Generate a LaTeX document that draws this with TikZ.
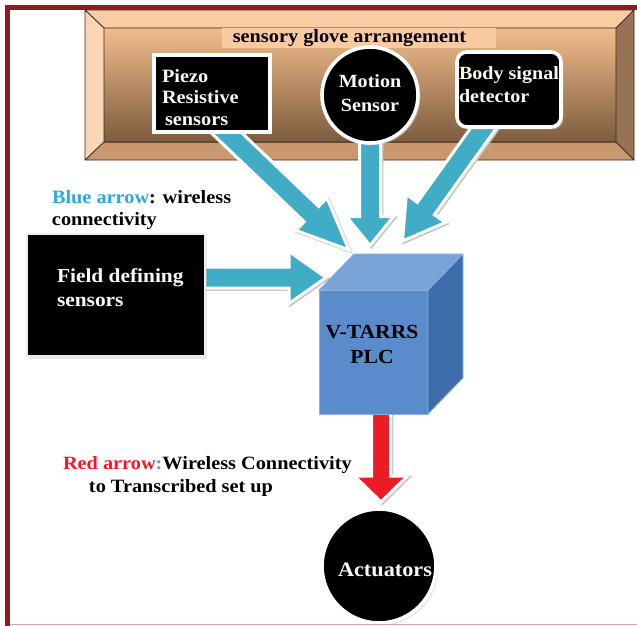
\documentclass[tikz,border=0pt]{standalone}
\usepackage{fontspec}
\setmainfont{Liberation Serif}[FakeStretch=1.08]
\usetikzlibrary{calc,shadows}
\definecolor{framered}{HTML}{8E1B20}
\definecolor{framepale}{HTML}{D9A2A6}
\definecolor{bevtop}{HTML}{F9CCA4}
\definecolor{bevleft}{HTML}{FAD5B8}
\definecolor{bevbot}{HTML}{C9986F}
\definecolor{bevright}{HTML}{987254}
\definecolor{innertop}{HTML}{F2BD8B}
\definecolor{innermid}{HTML}{C69770}
\definecolor{innerbot}{HTML}{7C5B3D}
\definecolor{bevline}{HTML}{3B2B1C}
\definecolor{band}{HTML}{FACBA3}
\definecolor{arrowblue}{HTML}{41ACC6}
\definecolor{arrowred}{HTML}{ED1C24}
\definecolor{labelblue}{HTML}{2EA8DF}
\definecolor{cubefront}{HTML}{5A8BCB}
\definecolor{cubetop}{HTML}{79A3D7}
\definecolor{cuberight}{HTML}{3E6DAC}
\definecolor{cubeedge}{HTML}{8DB1DF}
\definecolor{offwhite}{HTML}{FAFAF5}
\pgfdeclarelayer{bottom}
\pgfdeclarelayer{mid}
\pgfsetlayers{bottom,mid,main}
\newcommand\blockarrow[6]{%
  \coordinate (ba-b) at ($(#3)!#6!(#2)$);
  \path[#1] ($(#2)!#4!90:(#3)$) -- ($(ba-b)!#4!90:(#3)$) -- ($(ba-b)!#5!90:(#3)$) -- (#3)
     -- ($(ba-b)!#5!-90:(#3)$) -- ($(ba-b)!#4!-90:(#3)$) -- ($(#2)!#4!-90:(#3)$) -- cycle;
}
\newcommand\shadedarrow[7]{%
  \begin{scope}[transform canvas={xshift=1.3pt,yshift=-1.3pt}]
    \blockarrow{draw=gray!45,fill=gray!45,line width=3pt,line join=miter}{#2}{#3}{#4}{#5}{#6}
  \end{scope}
  \blockarrow{draw=white,fill=#1,line width=3pt,line join=miter}{#2}{#3}{#4}{#5}{#6}
}
\tikzset{
  txt/.style={inner sep=0pt, outer sep=0pt},
  wtxt/.style={txt, text=offwhite},
  blackbox/.style={fill=black, draw=white, line width=3.6pt, inner sep=0pt, outer sep=0pt,
     drop shadow={shadow xshift=2.3pt, shadow yshift=-2.3pt, fill=gray!45}},
}
\begin{document}
\begin{tikzpicture}[x=1pt,y=-1pt]
\useasboundingbox (0,0) rectangle (637,626);

% sensory glove arrangement frame
\begin{pgfonlayer}{bottom}
\fill[white] (0,0) rectangle (637,626);
\coordinate (O1) at (85,10);  \coordinate (O2) at (634,10);
\coordinate (O3) at (634,160); \coordinate (O4) at (85,160);
\coordinate (I1) at (104,28);  \coordinate (I2) at (616,28);
\coordinate (I3) at (616,142); \coordinate (I4) at (104,142);
\fill[bevtop] (O1) -- (O2) -- (I2) -- (I1) -- cycle;
\fill[bevright] (O2) -- (O3) -- (I3) -- (I2) -- cycle;
\fill[bevbot] (O4) -- (O3) -- (I3) -- (I4) -- cycle;
\fill[bevleft] (O1) -- (O4) -- (I4) -- (I1) -- cycle;
\shade[top color=innertop, middle color=innermid, bottom color=innerbot] (I1) rectangle (I3);
\draw[bevline, line width=0.9pt] (O1) rectangle (O3) (I1) rectangle (I3)
  (O1) -- (I1) (O2) -- (I2) (O3) -- (I3) (O4) -- (I4);
\fill[band] (222,28.5) rectangle (496,48);
\node[txt, anchor=base, font=\bfseries\fontsize{18.8}{22}\selectfont] (title) at (349.5,43) {sensory glove arrangement};
\end{pgfonlayer}

% source boxes
\node[blackbox, minimum width=116pt, minimum height=77pt] (piezo) at (212,93.5) {};
\node[wtxt, align=left, anchor=west, font=\bfseries\fontsize{18.8}{21.5}\selectfont] (piezotxt) at (162,97.2) {Piezo\\Resistive\\\hspace*{3pt}sensors};

\node[blackbox, circle, minimum size=96pt] (motion) at (370,95) {};
\node[wtxt, align=center, font=\bfseries\fontsize{18.6}{24}\selectfont] (motiontxt) at (370,93.6) {Motion\\Sensor};

\node[blackbox, rounded corners=10pt, minimum width=104pt, minimum height=75pt] (body) at (509,89.5) {};
\node[wtxt, align=left, anchor=west, font=\bfseries\fontsize{18.6}{23}\selectfont] (bodytxt) at (459,84.2) {Body signal\\detector};

\node[fill=black, draw=gray!15, line width=2pt, inner sep=0pt, outer sep=0pt, minimum width=178pt, minimum height=122pt,
   drop shadow={shadow xshift=1.5pt, shadow yshift=-2.5pt, fill=gray!40}] (field) at (116,295) {};
\node[wtxt, align=left, anchor=west, font=\bfseries\fontsize{19.8}{24.7}\selectfont] (fieldtxt) at (57,287.7) {Field defining\\sensors};

% PLC cube
\node[fill=cubefront, draw=cubeedge, line width=0.8pt, inner sep=0pt, outer sep=0pt, minimum width=109pt, minimum height=124pt] (plc) at (373.5,352) {};
\draw[fill=cubetop, draw=cubeedge, line width=0.8pt, line join=round] (plc.north west) -- ($(plc.north west)+(35,-36)$) -- ($(plc.north east)+(35,-36)$) -- (plc.north east) -- cycle;
\draw[fill=cuberight, draw=cubeedge, line width=0.8pt, line join=round] (plc.north east) -- ($(plc.north east)+(35,-36)$) -- ($(plc.south east)+(35,-36)$) -- (plc.south east) -- cycle;
\node[txt, align=center, font=\bfseries\fontsize{20}{25}\selectfont] (plctxt) at (372,344.9) {V-TARRS\\PLC};

% actuators
\node[blackbox, circle, minimum size=114pt] (actuators) at (379,566) {};
\node[wtxt, anchor=base, font=\bfseries\fontsize{20.6}{24}\selectfont] (acttxt) at (385,576) {Actuators};

% connector end points
\coordinate (s1) at ($(piezo.south)+(0,-13)$);
\coordinate (s2) at ($(motion.south)+(0,-15)$);
\coordinate (s3) at ($(body.south)+(-17.5,-10)$);
\coordinate (s4) at ($(field.east)+(-10,-17.5)$);
\coordinate (t1) at ($(plc.north west)+(30,-40)$);
\coordinate (t2) at ($(plc.north west)+(51,-44.5)$);
\coordinate (t3) at ($(plc.north west)+(83.5,-49)$);
\coordinate (t4) at ($(plc.north west)+(7,-12.5)$);
\coordinate (s5) at ($(plc.south)+(7.5,-10)$);
\coordinate (t5) at ($(actuators.north)+(2,-7)$);

\begin{pgfonlayer}{mid}
\shadedarrow{arrowblue}{s1}{t1}{10.5pt}{22.5pt}{52pt}{}
\shadedarrow{arrowblue}{s2}{t2}{10.5pt}{23.5pt}{29pt}{}
\shadedarrow{arrowblue}{s3}{t3}{10.5pt}{24pt}{40pt}{}
\shadedarrow{arrowblue}{s4}{t4}{10.5pt}{26pt}{37pt}{}
\shadedarrow{arrowred}{s5}{t5}{9.5pt}{26.5pt}{26pt}{}
\end{pgfonlayer}

% legend texts
\node[txt, align=left, anchor=west, font=\bfseries\fontsize{18.8}{22}\selectfont] (bluelabel) at (52,209.9)
  {\textcolor{labelblue}{Blue arrow}: wireless\\connectivity};
\node[txt, align=left, anchor=west, font=\bfseries\fontsize{18.8}{23.7}\selectfont] (redlabel) at (63,476.4)
  {\textcolor{arrowred}{Red arrow}\textcolor{labelblue}{:}Wireless Connectivity\\\hspace*{26pt}to Transcribed set up};

% page border
\draw[framepale, line width=1.2pt] (10,624.8) -- (637,624.8);
\draw[framered, line width=5pt] (7.5,626) -- (7.5,7.5) -- (637,7.5);
\end{tikzpicture}
\end{document}
